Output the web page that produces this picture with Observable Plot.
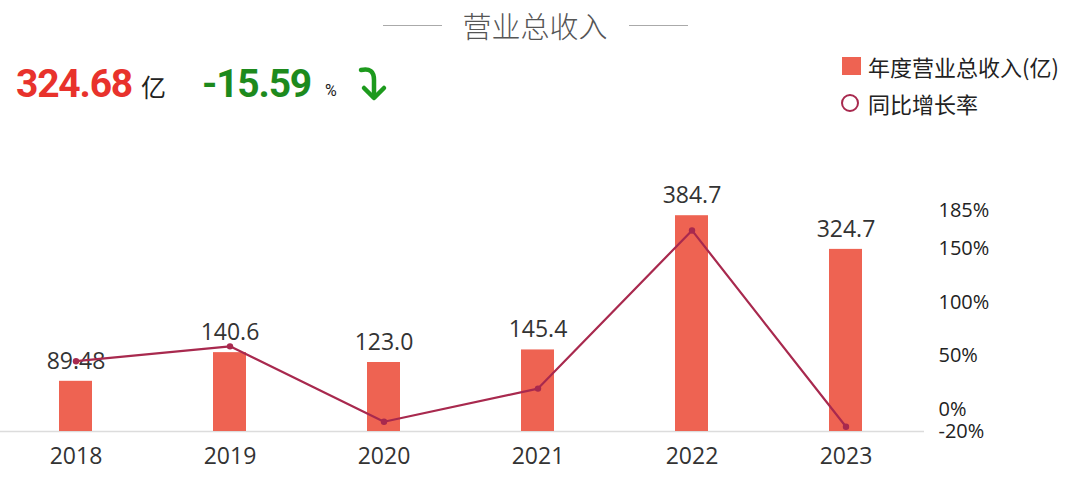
<!DOCTYPE html>
<html>
<head>
<meta charset="utf-8">
<script src="https://cdn.jsdelivr.net/npm/d3@7"></script>
<script src="https://cdn.jsdelivr.net/npm/@observablehq/plot@0.6"></script>
<style>
  html, body { margin: 0; padding: 0; background: #fff; }
  #wrap { position: relative; width: 1080px; height: 489px; overflow: hidden;
          font-family: "Open Sans", "Noto Sans CJK SC", sans-serif; color: #333; }
  #wrap svg.plot { position: absolute; left: 0; top: 0; }
  .abs { position: absolute; white-space: nowrap; }
</style>
</head>
<body>
<div id="wrap">
  <div class="abs" style="left:383px;top:25px;width:59px;border-top:1px solid #aaa;"></div>
  <div class="abs" style="left:629px;top:25px;width:59px;border-top:1px solid #aaa;"></div>
  <div class="abs" style="left:450px;top:4px;width:170px;text-align:center;font-family:'Noto Sans CJK SC';font-weight:300;font-size:29px;color:#555;line-height:42px;">营业总收入</div>

  <div class="abs" style="left:16px;top:58px;font-family:Roboto,'Noto Sans CJK SC';font-weight:bold;font-size:39px;letter-spacing:-1.2px;color:#e8322c;line-height:52px;">324.68</div>
  <div class="abs" style="left:141px;top:66px;font-family:'Noto Sans CJK SC';font-size:25px;color:#222;line-height:40px;">亿</div>
  <div class="abs" style="left:202px;top:58px;font-family:Roboto,'Noto Sans CJK SC';font-weight:bold;font-size:39px;letter-spacing:-1.2px;color:#1d8a1d;line-height:52px;">-15.59</div>
  <div class="abs" style="left:325px;top:79px;font-family:Roboto;font-size:16px;color:#222;line-height:24px;">%</div>
  <svg class="abs" style="left:350px;top:60px;" width="44" height="46" viewBox="350 60 44 46">
    <path d="M361,70 Q374,67 374,80 L374,97" fill="none" stroke="#1d9a1d" stroke-width="4.5" stroke-linecap="round"/>
    <path d="M364,88 L374,98 L384,88" fill="none" stroke="#1d9a1d" stroke-width="4.5" stroke-linecap="round" stroke-linejoin="round"/>
  </svg>

  <div class="abs" style="left:842px;top:57px;width:19px;height:18px;background:#ee6352;"></div>
  <div class="abs" style="left:868px;top:50px;font-family:'Noto Sans CJK SC';font-size:22px;color:#222;line-height:32px;">年度营业总收入(亿)</div>
  <div class="abs" style="left:841px;top:94px;width:14px;height:14px;border:2.8px solid #a8294e;border-radius:50%;"></div>
  <div class="abs" style="left:868px;top:87px;font-family:'Noto Sans CJK SC';font-size:22px;color:#222;line-height:32px;">同比增长率</div>
</div>
<script>
const years = ["2018", "2019", "2020", "2021", "2022", "2023"];
const revenue = [89.48, 140.6, 123.0, 145.4, 384.7, 324.68];
const revenueLabels = ["89.48", "140.6", "123.0", "145.4", "384.7", "324.7"];
const growth = [45.2, 59.0, -11.0, 19.8, 166.5, -15.59];
const pctTicks = [-20, 0, 50, 100, 150, 185];

const barMax = 394;
const pctMin = -20, pctMax = 185;
const toBar = p => (p - pctMin) * barMax / (pctMax - pctMin);
const fromBar = b => b * (pctMax - pctMin) / barMax + pctMin;

const rows = years.map((y, i) => ({year: y, rev: revenue[i], label: revenueLabels[i], g: growth[i]}));

const chart = Plot.plot({
  width: 1080,
  height: 489,
  marginTop: 210,
  marginBottom: 58,
  marginLeft: 0,
  marginRight: 156,
  style: {fontFamily: "'Open Sans', 'Noto Sans CJK SC', sans-serif", color: "#333", background: "transparent"},
  x: {type: "band", domain: years, range: [-2.5, 924], paddingInner: 0.785, paddingOuter: 0.3925, label: null},
  y: {domain: [0, barMax], label: null},
  marks: [
    Plot.ruleY([0], {stroke: "#dcdcdc", strokeWidth: 1.5}),
    Plot.barY(rows, {x: "year", y: "rev", fill: "#ee6352"}),
    Plot.text(rows, {x: "year", y: "rev", text: "label", dy: -20, lineAnchor: "middle", fontSize: 23, fill: "#333"}),
    Plot.line(rows, {x: "year", y: d => toBar(d.g), stroke: "#a8294e", strokeWidth: 2.2}),
    Plot.dot(rows, {x: "year", y: d => toBar(d.g), r: 3.2, fill: "#a8294e", stroke: "none"}),
    Plot.axisX({tickSize: 0, tickPadding: 16, fontSize: 23, fill: "#333", label: null}),
    Plot.axisY(pctTicks.map(toBar), {anchor: "right", tickSize: 0, tickPadding: 14, fontSize: 20, fill: "#222", label: null,
      tickFormat: d => Math.round(fromBar(d)) + "%"})
  ]
});
document.getElementById("wrap").appendChild(chart);
</script>
</body>
</html>
